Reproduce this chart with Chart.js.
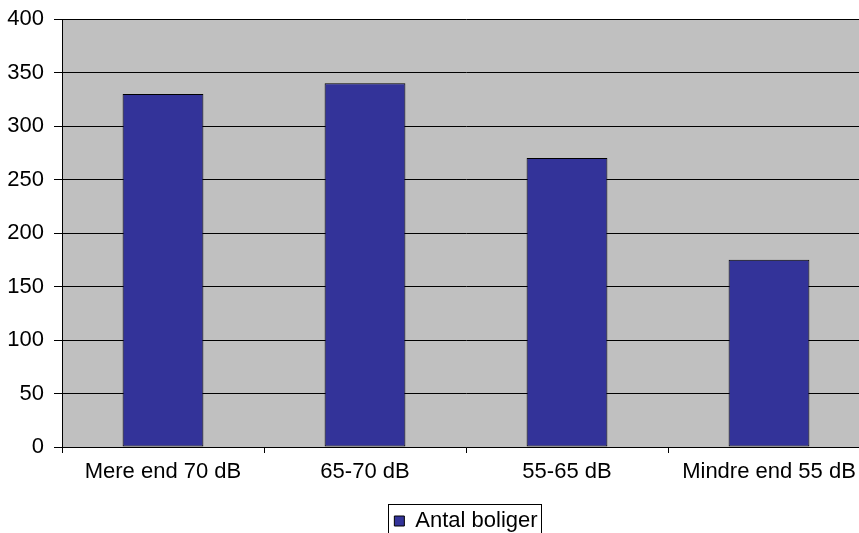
<!DOCTYPE html>
<html>
<head>
<meta charset="utf-8">
<script src="https://cdn.jsdelivr.net/npm/chart.js@4/dist/chart.umd.min.js"></script>
<style>
  html, body { margin: 0; padding: 0; background: #ffffff; overflow: hidden; }
  #wrap { width: 859px; height: 533px; position: relative; overflow: hidden; }
  #c { position: absolute; left: 0; top: 0; }
</style>
</head>
<body>
<div id="wrap"><canvas id="c" width="870" height="533" style="width:870px;height:533px"></canvas></div>
<script>
const categories = ['Mere end 70 dB', '65-70 dB', '55-65 dB', 'Mindre end 55 dB'];
const seriesName = 'Antal boliger';
const values = [330, 340, 270, 175];
const yMin = 0, yMax = 400, yStep = 50;

const FONT = { family: '"Liberation Sans", Arial, Helvetica, sans-serif', size: 22 };

const plotBg = {
  id: 'plotBg',
  beforeDraw(chart) {
    const { ctx, chartArea: a } = chart;
    ctx.save();
    ctx.fillStyle = '#C0C0C0';
    ctx.fillRect(a.left, a.top, a.right - a.left, a.bottom - a.top);
    ctx.restore();
  }
};

const legendBorder = {
  id: 'legendBorder',
  afterDraw(chart) {
    const lg = chart.legend;
    if (!lg || !lg.legendHitBoxes || !lg.legendHitBoxes.length) return;
    const hb = lg.legendHitBoxes[0];
    const ctx = chart.ctx;
    ctx.save();
    ctx.strokeStyle = '#000';
    ctx.lineWidth = 1;
    const x0 = Math.round(hb.left) - 5.5;
    const y0 = 504.5;
    const w = Math.round(hb.width) + 10;
    const h = 40;
    ctx.strokeRect(x0, y0, w, h);
    ctx.restore();
  }
};

new Chart(document.getElementById('c'), {
  type: 'bar',
  data: {
    labels: categories,
    datasets: [{
      label: seriesName,
      data: values,
      backgroundColor: '#333399',
      borderColor: '#000000',
      borderWidth: 1,
      borderSkipped: false,
      barPercentage: 0.40,
      categoryPercentage: 1.0
    }]
  },
  options: {
    responsive: false,
    animation: false,
    devicePixelRatio: 1,
    layout: { padding: { top: 19, right: 0, left: 0, bottom: -9 } },
    plugins: {
      legend: {
        position: 'bottom',
        fullSize: false,
        labels: {
          color: '#000',
          font: FONT,
          boxWidth: 10,
          boxHeight: 10,
          padding: 2
        }
      },
      tooltip: { enabled: false }
    },
    scales: {
      x: {
        afterFit(s) { s.height = 61; s.paddingLeft = 0; s.paddingRight = 0; },
        grid: { display: true, drawOnChartArea: false, offset: true, color: '#000', tickLength: 6 },
        border: { display: true, color: '#000', width: 1 },
        ticks: { color: '#000', font: FONT, padding: 6, maxRotation: 0 }
      },
      y: {
        min: yMin, max: yMax,
        afterFit(s) { s.width = 62; s.paddingTop = 0; s.paddingBottom = 0; },
        grid: { color: '#000', tickLength: 8, lineWidth: 1 },
        border: { display: true, color: '#000', width: 1 },
        ticks: { stepSize: yStep, color: '#000', font: FONT, padding: 10 }
      }
    }
  },
  plugins: [plotBg, legendBorder]
});
</script>
</body>
</html>
